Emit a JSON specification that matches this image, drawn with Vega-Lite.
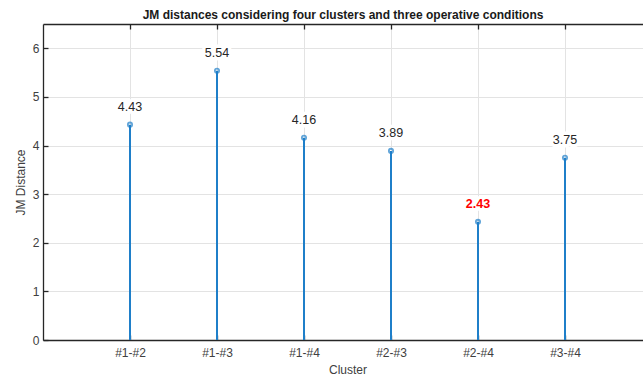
{
  "$schema": "https://vega.github.io/schema/vega-lite/v6.json",
  "width": 600,
  "height": 316,
  "autosize": {"type": "none"},
  "padding": {"left": 43, "top": 24, "right": 0, "bottom": 38},
  "background": "white",
  "config": {
    "font": "Liberation Sans",
    "view": {"stroke": null},
    "axis": {
      "domainColor": "#262626",
      "domainWidth": 1.3,
      "tickColor": "#262626",
      "tickWidth": 1.3,
      "tickSize": -5,
      "gridColor": "#e3e3e3",
      "gridWidth": 1,
      "labelColor": "#404040",
      "labelFont": "Liberation Sans",
      "labelFontSize": 12,
      "titleColor": "#404040",
      "titleFont": "Liberation Sans",
      "titleFontSize": 12,
      "titleFontWeight": "normal"
    }
  },
  "title": {
    "text": "JM distances considering four clusters and three operative conditions",
    "font": "Liberation Sans",
    "fontSize": 12,
    "fontWeight": "bold",
    "color": "#1a1a1a",
    "anchor": "middle",
    "offset": 1
  },
  "data": {
    "values": [
      {"cluster": "#1-#2", "jm": 4.43},
      {"cluster": "#1-#3", "jm": 5.54},
      {"cluster": "#1-#4", "jm": 4.16},
      {"cluster": "#2-#3", "jm": 3.89},
      {"cluster": "#2-#4", "jm": 2.43},
      {"cluster": "#3-#4", "jm": 3.75}
    ]
  },
  "transform": [
    {"joinaggregate": [{"op": "min", "field": "jm", "as": "minjm"}]}
  ],
  "resolve": {"axis": {"x": "independent", "y": "independent"}},
  "layer": [
    {
      "mark": {"type": "rule", "color": "#1f7fc9", "strokeWidth": 2},
      "encoding": {
        "x": {
          "field": "cluster", "type": "ordinal", "sort": null,
          "scale": {"type": "point", "padding": 1, "range": [0, 609]},
          "axis": {"orient": "bottom", "title": "Cluster", "labelAngle": 0, "grid": true, "labelPadding": 12, "titlePadding": 6}
        },
        "y": {
          "field": "jm", "type": "quantitative",
          "scale": {"domain": [0, 6.5], "nice": false, "zero": true},
          "axis": {"orient": "left", "title": "JM Distance", "values": [0, 1, 2, 3, 4, 5, 6], "grid": true, "labelPadding": 9, "titlePadding": 5}
        },
        "y2": {"datum": 0}
      }
    },
    {
      "mark": {"type": "point", "shape": "circle", "size": 18, "filled": false, "color": "#1f7fc9", "strokeWidth": 1.8},
      "encoding": {
        "x": {
          "field": "cluster", "type": "ordinal", "sort": null,
          "axis": {"orient": "top", "title": null, "labels": false, "grid": false, "domain": true}
        },
        "y": {"field": "jm", "type": "quantitative", "axis": null}
      }
    },
    {
      "mark": {"type": "text", "dy": -18, "fontSize": 12.5, "color": "white", "stroke": "white", "strokeWidth": 7, "strokeJoin": "round"},
      "encoding": {
        "x": {"field": "cluster", "type": "ordinal", "sort": null, "axis": null},
        "y": {"field": "jm", "type": "quantitative", "axis": null},
        "text": {"field": "jm", "type": "quantitative", "format": ".2f"}
      }
    },
    {
      "transform": [{"filter": "datum.jm > datum.minjm"}],
      "mark": {"type": "text", "dy": -18, "fontSize": 12.5, "color": "#262626"},
      "encoding": {
        "x": {"field": "cluster", "type": "ordinal", "sort": null, "axis": null},
        "y": {"field": "jm", "type": "quantitative", "axis": null},
        "text": {"field": "jm", "type": "quantitative", "format": ".2f"}
      }
    },
    {
      "transform": [{"filter": "datum.jm == datum.minjm"}],
      "mark": {"type": "text", "dy": -18, "fontSize": 12.5, "fontWeight": "bold", "color": "#ff0000"},
      "encoding": {
        "x": {"field": "cluster", "type": "ordinal", "sort": null, "axis": null},
        "y": {"field": "jm", "type": "quantitative", "axis": null},
        "text": {"field": "jm", "type": "quantitative", "format": ".2f"}
      }
    }
  ]
}
